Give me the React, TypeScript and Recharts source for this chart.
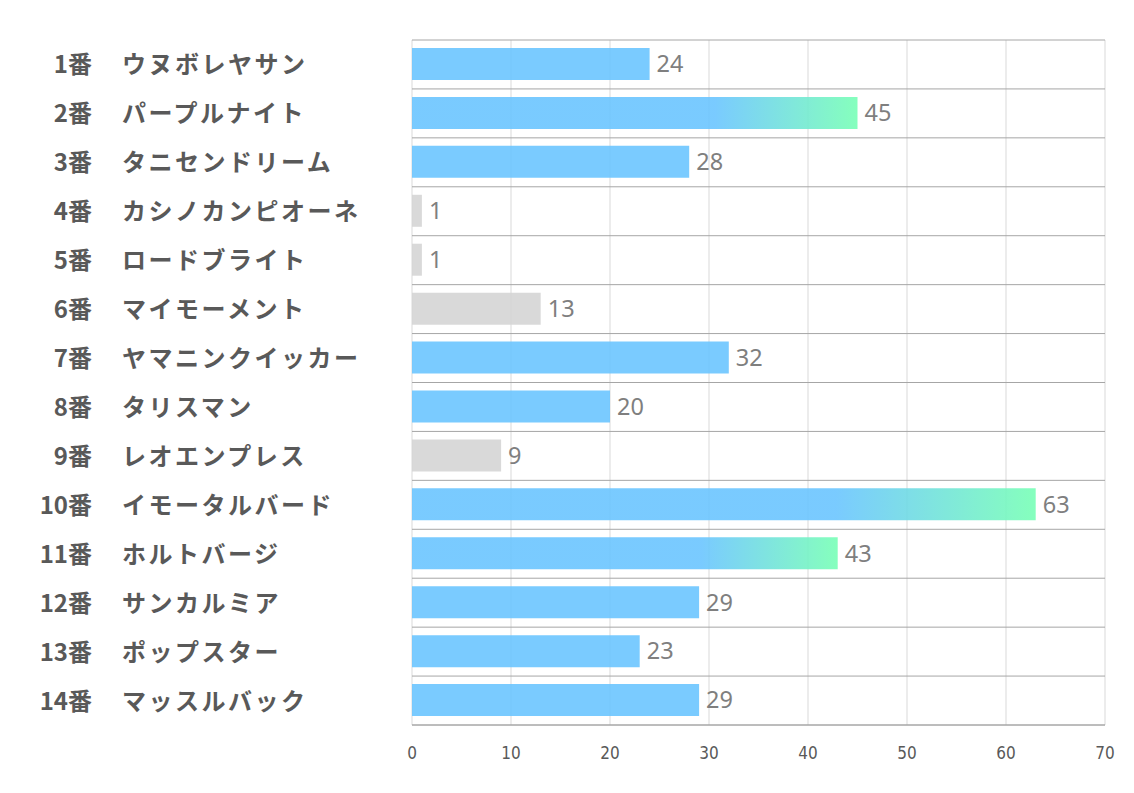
import { BarChart, Bar, XAxis, YAxis, CartesianGrid, Cell, LabelList } from "recharts";

const horseNumbers = ["1番", "2番", "3番", "4番", "5番", "6番", "7番", "8番", "9番", "10番", "11番", "12番", "13番", "14番"];
const horseNames = [
  "ウヌボレヤサン",
  "パープルナイト",
  "タニセンドリーム",
  "カシノカンピオーネ",
  "ロードブライト",
  "マイモーメント",
  "ヤマニンクイッカー",
  "タリスマン",
  "レオエンプレス",
  "イモータルバード",
  "ホルトバージ",
  "サンカルミア",
  "ポップスター",
  "マッスルバック",
];
const scores = [24, 45, 28, 1, 1, 13, 32, 20, 9, 63, 43, 29, 23, 29];
const xTicks = [0, 10, 20, 30, 40, 50, 60, 70];

const BLUE = "#6BC5FF";
const GREEN = "#78FFB6";
const GRAY = "#D5D5D5";

const data = horseNumbers.map((no, i) => ({ idx: i, no, name: horseNames[i], value: scores[i] }));

// top 3 get the gradient, bottom 4 are greyed out
const sorted = [...scores].sort((a, b) => b - a);
const topCut = sorted[2];
const lowCut = sorted[sorted.length - 4];

function barFill(v: number) {
  if (v >= topCut) return "url(#topGrad)";
  if (v <= lowCut) return GRAY;
  return BLUE;
}

function HorseTick(props: any) {
  const { x, y, payload } = props;
  const d = data[payload.value];
  return (
    <g>
      <text
        x={x - 312}
        y={y}
        dy={9}
        textAnchor="end"
        fill="#595959"
        fontSize={24}
        fontWeight="bold"
        fontFamily="'Noto Sans CJK JP', sans-serif"
      >
        {d.no}
      </text>
      <text
        x={x - 282}
        y={y}
        dy={9}
        textAnchor="start"
        fill="#595959"
        fontSize={24}
        fontWeight="bold"
        letterSpacing={2.5}
        fontFamily="'Noto Sans CJK JP', sans-serif"
      >
        {d.name}
      </text>
    </g>
  );
}

export default function App() {
  return (
    <div style={{ position: "absolute", left: 0, top: 0, background: "#fff" }}>
      <BarChart
        width={1134}
        height={793}
        data={data}
        layout="vertical"
        margin={{ top: 40, right: 29, bottom: 28, left: 0 }}
      >
        <defs>
          <linearGradient id="topGrad" x1="0" y1="0" x2="1" y2="0">
            <stop offset="0%" stopColor={BLUE} />
            <stop offset="68%" stopColor={BLUE} />
            <stop offset="100%" stopColor={GREEN} />
          </linearGradient>
        </defs>
        <CartesianGrid horizontal={false} stroke="#d9d9d9" />
        <CartesianGrid
          vertical={false}
          stroke="#a6a6a6"
          horizontalCoordinatesGenerator={({ offset }: any) =>
            data.concat([data[0]]).map((_, i) => offset.top + (i * offset.height) / data.length)
          }
        />
        <XAxis
          type="number"
          domain={[0, 70]}
          ticks={xTicks}
          axisLine={{ stroke: "#a6a6a6" }}
          tickLine={false}
          tickMargin={16}
          height={40}
          tick={{ fill: "#595959", fontSize: 17, fontFamily: "'Liberation Sans Narrow', 'DejaVu Sans Condensed', sans-serif" }}
        />
        <YAxis
          type="category"
          dataKey="idx"
          width={412}
          axisLine={false}
          tickLine={false}
          interval={0}
          tick={<HorseTick />}
        />
        <Bar dataKey="value" barSize={32} fillOpacity={0.9} isAnimationActive={false}>
          {data.map((d, i) => (
            <Cell key={i} fill={barFill(d.value)} />
          ))}
          <LabelList
            dataKey="value"
            position="right"
            offset={7}
            fill="#7f7f7f"
            fontSize={23.5}
            fontFamily="'Noto Sans', sans-serif"
          />
        </Bar>
      </BarChart>
    </div>
  );
}
